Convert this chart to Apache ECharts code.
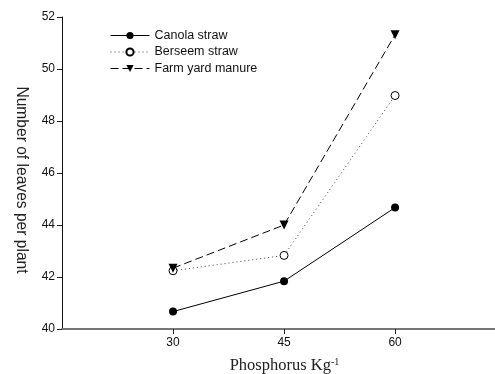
<!DOCTYPE html>
<html><head><meta charset="utf-8">
<script src="https://cdn.jsdelivr.net/npm/echarts@6/dist/echarts.min.js"></script>
<style>html,body{margin:0;padding:0;background:#fff}#c{width:495px;height:374px}</style>
</head><body><div id="c"></div>
<script>
const phosphorus = [30, 45, 60];
const canolaStraw = [40.67, 41.84, 44.67];
const berseemStraw = [42.24, 42.83, 48.98];
const farmYardManure = [42.34, 44.0, 51.32];
const seriesNames = ['Canola straw', 'Berseem straw', 'Farm yard manure'];
const xTicks = [30, 45, 60];
const yTicks = [40, 42, 44, 46, 48, 50, 52];

const chart = echarts.init(document.getElementById('c'));
const pair = arr => phosphorus.map((p, i) => [p, arr[i]]);
chart.setOption({
  animation: false,
  grid: {left: 62, right: 0, top: 17, bottom: 45, outerBoundsMode: 'none', containLabel: false},
  legend: {
    orient: 'vertical', left: 110, top: 29, padding: 0, itemWidth: 39, itemHeight: 9, itemGap: 3.5,
    lineStyle: {width: 1},
    textStyle: {fontFamily: 'Liberation Sans, Arial', fontSize: 12.5, lineHeight: 12, color: '#111'},
    data: seriesNames
  },
  xAxis: {
    type: 'value', min: 15, max: 73.5, interval: 15,
    name: 'Phosphorus Kg{sup|-1}', nameLocation: 'middle', nameGap: 28,
    nameTextStyle: {fontFamily: 'Liberation Serif, Times New Roman', fontSize: 16.5, color: '#222', padding: [0, 0, 0, 12],
      rich: {sup: {fontFamily: 'Liberation Serif', fontSize: 10, verticalAlign: 'top', padding: [0, 0, 8, 0], color: '#222'}}},
    axisLine: {lineStyle: {color: '#777', width: 2}},
    axisTick: {length: 5, lineStyle: {color: '#222'}, customValues: xTicks},
    axisLabel: {fontFamily: 'Liberation Sans, Arial', fontSize: 12, color: '#111', margin: 8, customValues: xTicks},
    splitLine: {show: false}
  },
  yAxis: {
    type: 'value', min: 40, max: 52, interval: 2,
    name: 'Number of leaves per plant', nameLocation: 'middle', nameGap: 33, nameRotate: -90,
    nameTextStyle: {fontFamily: 'Liberation Sans, Arial', fontSize: 15.6, color: '#222', padding: [0, 0, 0, 14]},
    axisLine: {show: true, lineStyle: {color: '#111', width: 1}},
    axisTick: {show: true, length: 5, lineStyle: {color: '#222'}, customValues: yTicks},
    axisLabel: {fontFamily: 'Liberation Sans, Arial', fontSize: 12, color: '#111', margin: 7, customValues: yTicks},
    splitLine: {show: false}
  },
  series: [
    {name: seriesNames[0], type: 'line', data: pair(canolaStraw), symbol: 'circle', symbolSize: 8,
     itemStyle: {color: '#000'}, lineStyle: {color: '#000', width: 1}},
    {name: seriesNames[1], type: 'line', data: pair(berseemStraw), symbol: 'circle', symbolSize: 8,
     itemStyle: {color: '#fff', borderColor: '#000', borderWidth: 1}, lineStyle: {color: '#444', width: 1, type: [1, 3]}},
    {name: seriesNames[2], type: 'line', data: pair(farmYardManure), symbol: 'triangle', symbolRotate: 180, symbolSize: 9,
     itemStyle: {color: '#000'}, lineStyle: {color: '#000', width: 1, type: [8, 4]}}
  ]
});
</script></body></html>
